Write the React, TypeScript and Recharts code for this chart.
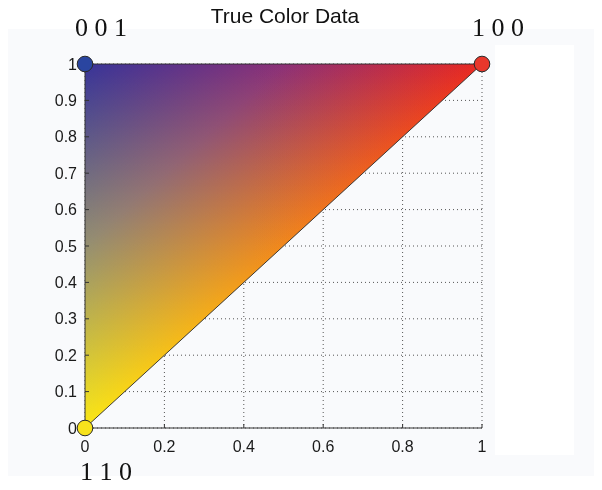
import React from 'react';
import { ComposedChart, Area, Scatter, XAxis, YAxis, CartesianGrid } from 'recharts';

// Axis ticks
const xTicks = [0, 0.2, 0.4, 0.6, 0.8, 1];
const yTicks = [0, 0.1, 0.2, 0.3, 0.4, 0.5, 0.6, 0.7, 0.8, 0.9, 1];

// Triangle patch as a range area: for each x, [lower y, upper y]
const patchX = [0, 1];
const patchLow = [0, 1];
const patchHigh = [1, 1];

// Patch vertices (true colour data)
const vertexX = [0, 1, 0];
const vertexY = [1, 1, 0];
const vertexLabels = ['0 0 1', '1 0 0', '1 1 0'];
const vertexMarkerColors = ['#2a45a0', '#e8372b', '#f7e21c'];

// Shading colours at the three corners
const colorYellow = 'rgb(250,232,22)'; // vertex (0,0)
const colorBlueMid = 'rgb(24,28,102)'; // halfway toward vertex (0,1)
const colorBlue = 'rgb(56,52,152)'; // vertex (0,1)
const colorRed = 'rgb(232,40,34)'; // vertex (1,1)

const patchData = patchX.map((x, i) => ({ x, tri: [patchLow[i], patchHigh[i]] }));
const vertexData = vertexX.map((x, i) => ({
  x,
  y: vertexY[i],
  label: vertexLabels[i],
  color: vertexMarkerColors[i],
}));

const LABEL_OFFSETS: Record<string, { dx: number; dy: number }> = {
  '0 0 1': { dx: -10, dy: -28 },
  '1 0 0': { dx: -10, dy: -28 },
  '1 1 0': { dx: -5, dy: 52 },
};

const VertexShape = (props: any) => {
  const { cx, cy, payload } = props;
  if (cx == null || cy == null) return null;
  const off = LABEL_OFFSETS[payload.label] || { dx: 0, dy: 0 };
  return (
    <g>
      <circle cx={cx} cy={cy} r={7.8} fill={payload.color} stroke="#2a2a2a" strokeWidth={1} />
      <text
        x={cx + off.dx}
        y={cy + off.dy}
        textAnchor="start"
        fontFamily="'Liberation Serif', 'Times New Roman', serif"
        fontSize={26}
        fill="#111"
      >
        {payload.label}
      </text>
    </g>
  );
};

const tickStyle = { fontFamily: "'Liberation Sans', Arial, sans-serif", fontSize: 16, fill: '#1a1a1a' };

export default function App() {
  return (
    <div style={{ position: 'relative', width: 586, height: 474 }}>
      <style>{`html, body { overflow: hidden; } .plus-layer { mix-blend-mode: plus-lighter; }`}</style>
      <div style={{ position: 'absolute', left: 0, top: 21, width: 586, height: 447, background: '#f9fafc' }} />
      <div style={{ position: 'absolute', left: 487, top: 37, width: 79, height: 410, background: '#ffffff' }} />
      <div
        style={{
          position: 'absolute',
          left: 127,
          top: -3,
          width: 300,
          textAlign: 'center',
          fontFamily: "'Liberation Sans', Arial, sans-serif",
          fontSize: 21,
          lineHeight: '21px',
          color: '#111',
        }}
      >
        True Color Data
      </div>
      <div style={{ position: 'absolute', left: 0, top: 0 }}>
        <ComposedChart
          width={586}
          height={482}
          data={patchData}
          margin={{ top: 56, right: 112, bottom: 22, left: 37 }}
        >
          <defs>
            <linearGradient id="gradA" x1="0" y1="0" x2="0" y2="1">
              <stop offset="0" stopColor="#000" />
              <stop offset="1" stopColor={colorYellow} />
            </linearGradient>
            <linearGradient id="gradC" x1="0" y1="0" x2="1" y2="0">
              <stop offset="0" stopColor="#000" />
              <stop offset="1" stopColor={colorRed} />
            </linearGradient>
            <linearGradient id="gradB" x1="0.5" y1="0.5" x2="0" y2="0">
              <stop offset="0" stopColor="#000" />
              <stop offset="0.5" stopColor={colorBlueMid} />
              <stop offset="1" stopColor={colorBlue} />
            </linearGradient>
          </defs>
          <CartesianGrid
            horizontalValues={yTicks}
            verticalValues={xTicks}
            stroke="#555"
            strokeDasharray="1 3"
            fill="none"
          />
          <XAxis
            dataKey="x"
            type="number"
            domain={[0, 1]}
            ticks={xTicks}
            interval={0}
            height={40}
            tick={tickStyle}
            tickSize={-4}
            tickMargin={17}
            axisLine={{ stroke: '#333' }}
            tickLine={{ stroke: '#333' }}
          />
          <YAxis
            type="number"
            domain={[0, 1]}
            ticks={yTicks}
            interval={0}
            width={40}
            tick={tickStyle}
            tickSize={-4}
            tickMargin={12}
            axisLine={{ stroke: '#333' }}
            tickLine={{ stroke: '#333' }}
          />
          <Area
            dataKey="tri"
            type="linear"
            fill="url(#gradA)"
            fillOpacity={1}
            stroke="none"
            dot={false}
            activeDot={false}
            isAnimationActive={false}
          />
          <Area
            dataKey="tri"
            type="linear"
            className="plus-layer"
            fill="url(#gradC)"
            fillOpacity={1}
            stroke="none"
            dot={false}
            activeDot={false}
            isAnimationActive={false}
          />
          <Area
            dataKey="tri"
            type="linear"
            className="plus-layer"
            fill="url(#gradB)"
            fillOpacity={1}
            stroke="none"
            dot={false}
            activeDot={false}
            isAnimationActive={false}
          />
          <Area
            dataKey="tri"
            type="linear"
            fill="none"
            stroke="#2a2a2a"
            strokeWidth={0.9}
            dot={false}
            activeDot={false}
            isAnimationActive={false}
          />
          <Scatter data={vertexData} dataKey="y" shape={VertexShape} isAnimationActive={false} />
        </ComposedChart>
      </div>
    </div>
  );
}
